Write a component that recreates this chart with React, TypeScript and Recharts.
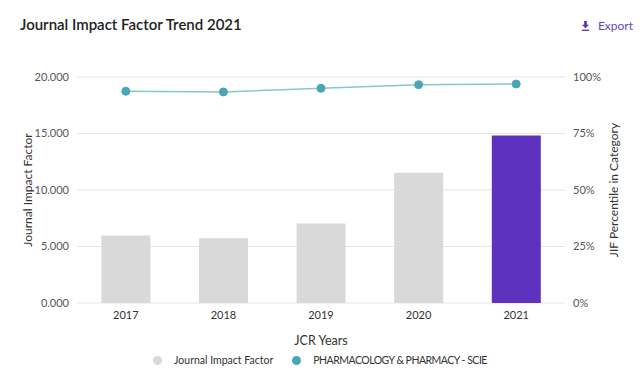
import React from "react";
import {
  ComposedChart,
  Bar,
  Line,
  XAxis,
  YAxis,
  CartesianGrid,
  Cell,
} from "recharts";

const years = ["2017", "2018", "2019", "2020", "2021"];
const impactFactor = [5.97, 5.74, 7.03, 11.53, 14.83];
const percentile = [93.7, 93.4, 95.0, 96.6, 96.9];
const leftTicks = [0, 5, 10, 15, 20];
const rightTicks = [0, 25, 50, 75, 100];
const seriesNames = ["Journal Impact Factor", "PHARMACOLOGY & PHARMACY - SCIE"];

const data = years.map((y, i) => ({
  year: y,
  jif: impactFactor[i],
  pct: percentile[i],
}));

const FONT = "Lato, 'Noto Sans', sans-serif";
const GRAY = "#d9d9d9";
const PURPLE = "#5c32be";
const TEAL = "#4aa5b5";
const TEAL_LINE = "#86c9cc";

export default function App() {
  return (
    <div
      style={{
        position: "absolute",
        left: 0,
        top: 0,
        width: 640,
        height: 380,
        background: "#fff",
        fontFamily: FONT,
        overflow: "hidden",
      }}
    >
      <div
        style={{
          position: "absolute",
          left: 20,
          top: 15,
          fontSize: 15,
          fontWeight: 600,
          color: "#222",
          whiteSpace: "nowrap",
        }}
      >
        Journal Impact Factor Trend 2021
      </div>
      <div
        style={{
          position: "absolute",
          right: 7,
          top: 18,
          fontSize: 12,
          color: "#6248c0",
          display: "flex",
          alignItems: "center",
          gap: 8,
        }}
      >
        <svg width="9" height="10" viewBox="0 0 10 11">
          <path d="M3.5 0h3v4h2.5L5 8 1 4h2.5z" fill="#5c32be" />
          <rect x="1" y="9.5" width="8" height="1.5" fill="#5c32be" />
        </svg>
        <span>Export</span>
      </div>
      <div style={{ position: "absolute", left: 0, top: 0 }}>
        <ComposedChart
          width={640}
          height={380}
          data={data}
          margin={{ top: 77, right: 0, bottom: 32, left: 0 }}
          barCategoryGap="25%"
        >
          <CartesianGrid vertical={false} stroke="#e6e6e6" yAxisId="left" />
          <XAxis
            dataKey="year"
            axisLine={false}
            tickLine={false}
            height={45}
            tick={{ fontSize: 11, fill: "#333", fontFamily: FONT }}
            tickMargin={2}
            label={{
              value: "JCR Years",
              position: "insideBottom",
              offset: 3,
              style: { fontSize: 12.5, fill: "#333", fontFamily: FONT },
            }}
          />
          <YAxis
            yAxisId="left"
            orientation="left"
            width={77}
            domain={[0, 20]}
            ticks={leftTicks}
            tickFormatter={(v: number) => v.toFixed(3)}
            axisLine={false}
            tickLine={false}
            tick={{ fontSize: 11, fill: "#555", fontFamily: FONT }}
            label={{
              value: "Journal Impact Factor",
              angle: -90,
              position: "insideLeft",
              offset: 28,
              style: { textAnchor: "middle", fontSize: 12, fill: "#333", fontFamily: FONT },
            }}
          />
          <YAxis
            yAxisId="right"
            orientation="right"
            width={75}
            domain={[0, 100]}
            ticks={rightTicks}
            tickFormatter={(v: number) => `${v}%`}
            axisLine={false}
            tickLine={false}
            tick={{ fontSize: 11, fill: "#555", fontFamily: FONT }}
            label={{
              value: "JIF Percentile in Category",
              angle: -90,
              position: "insideRight",
              offset: 26,
              style: { textAnchor: "middle", fontSize: 12, fill: "#333", fontFamily: FONT },
            }}
          />
          <Bar
            yAxisId="left"
            dataKey="jif"
            name={seriesNames[0]}
            fill={GRAY}
            isAnimationActive={false}
          >
            {data.map((d, i) => (
              <Cell key={d.year} fill={i === data.length - 1 ? PURPLE : GRAY} />
            ))}
          </Bar>
          <Line
            yAxisId="right"
            dataKey="pct"
            name={seriesNames[1]}
            stroke={TEAL_LINE}
            strokeWidth={1.5}
            dot={{ r: 4, fill: TEAL, stroke: TEAL, strokeWidth: 1 }}
            activeDot={false}
            isAnimationActive={false}
          />
        </ComposedChart>
      </div>
      <div
        style={{
          position: "absolute",
          top: 354,
          left: 0,
          width: 640,
          display: "flex",
          justifyContent: "center",
          fontSize: 10.5,
          color: "#333",
          gap: 19,
        }}
      >
        {seriesNames.map((n, i) => (
          <div key={n} style={{ display: "flex", alignItems: "center" }}>
            <span
              style={{
                display: "inline-block",
                width: 9,
                height: 9,
                borderRadius: "50%",
                background: i === 0 ? GRAY : TEAL,
                marginRight: 12,
              }}
            />
            <span style={{ letterSpacing: i === 1 ? "-0.5px" : "0px" }}>{n}</span>
          </div>
        ))}
      </div>
    </div>
  );
}
